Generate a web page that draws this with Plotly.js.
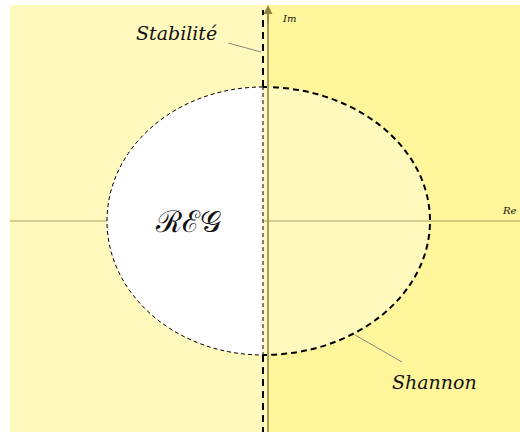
<!DOCTYPE html>
<html>
<head>
<meta charset="utf-8">
<script src="https://cdn.plot.ly/plotly-3.0.1.min.js"></script>
<style>html,body{margin:0;padding:0;background:#fff;}#chart{width:520px;height:432px;}</style>
</head>
<body>
<div id="chart"></div>
<script>
// Plane coordinates (centre of the ellipse at the origin)
const reRange = [-263, 257];
const imRange = [-211, 221];
const planeBox = [-253, 257, -211, 216];      // left, right, bottom, top of the coloured plane
const halfWidths = [156, 167];                // REG (left half), Shannon (right half)
const halfHeight = [134];
const imAxisX = [5];
const labels = ["Stabilité", "Shannon", "ℛℰ𝒢", "Im", "Re"];
const labelPos = [[-87, 188], [171, -161], [-75, 0], [26, 203], [246, 11]];
const leaderStab = [[-35, 178], [-2, 169]];
const leaderShan = [[92, -114], [139, -141]];

const k = 0.5523;
function halfEllipse(a, b, sign, close) {
  const s = sign;
  return `M 0,${b} C ${s*k*a},${b} ${s*a},${k*b} ${s*a},0 C ${s*a},${-k*b} ${s*k*a},${-b} 0,${-b}` + (close ? ' Z' : '');
}
const lightY = '#FFF9BE';
const brightY = '#FFF69B';
const axisCol = '#A8A15A';
const [aL, aR] = halfWidths;
const b = halfHeight[0];

const shapes = [
  {type:'rect', xref:'x', yref:'y', x0:planeBox[0], x1:imAxisX[0], y0:planeBox[2], y1:planeBox[3], fillcolor:lightY, line:{width:0}},
  {type:'rect', xref:'x', yref:'y', x0:imAxisX[0], x1:planeBox[1], y0:planeBox[2], y1:planeBox[3], fillcolor:brightY, line:{width:0}},
  {type:'path', xref:'x', yref:'y', path:halfEllipse(aR, b, 1, true), fillcolor:lightY, line:{width:0}},
  {type:'line', xref:'x', yref:'y', x0:planeBox[0], x1:planeBox[1], y0:0, y1:0, line:{color:axisCol, width:1}},
  {type:'path', xref:'x', yref:'y', path:halfEllipse(aL, b, -1, true), fillcolor:'#FFFFFF', line:{color:'#000', width:1, dash:'4px,3px'}},
  {type:'path', xref:'x', yref:'y', path:halfEllipse(aR, b, 1, false), fillcolor:'rgba(0,0,0,0)', line:{color:'#000', width:2, dash:'6px,4px'}},
  {type:'line', xref:'x', yref:'y', x0:0, x1:0, y0:b, y1:planeBox[3]-5, line:{color:'#000', width:2, dash:'7px,5px'}},
  {type:'line', xref:'x', yref:'y', x0:0, x1:0, y0:-b, y1:planeBox[2], line:{color:'#000', width:2, dash:'7px,5px'}},
  {type:'line', xref:'x', yref:'y', x0:imAxisX[0], x1:imAxisX[0], y0:planeBox[2], y1:planeBox[3]-6, line:{color:axisCol, width:2}},
  {type:'line', xref:'x', yref:'y', x0:leaderStab[0][0], y0:leaderStab[0][1], x1:leaderStab[1][0], y1:leaderStab[1][1], line:{color:'#888', width:1}},
  {type:'line', xref:'x', yref:'y', x0:leaderShan[0][0], y0:leaderShan[0][1], x1:leaderShan[1][0], y1:leaderShan[1][1], line:{color:'#888', width:1}}
];

const serif = "DejaVu Serif";
const annotations = [
  {x:labelPos[0][0], y:labelPos[0][1], text:labels[0], showarrow:false, font:{family:serif, style:'italic', size:19, color:'#111'}},
  {x:labelPos[1][0], y:labelPos[1][1], text:labels[1], showarrow:false, font:{family:serif, style:'italic', size:19, color:'#111'}},
  {x:labelPos[2][0], y:labelPos[2][1], text:labels[2], showarrow:false, font:{family:serif, size:30, color:'#111'}},
  {x:labelPos[3][0], y:labelPos[3][1], text:labels[3], showarrow:false, font:{family:serif, style:'italic', size:10, color:'#111'}},
  {x:labelPos[4][0], y:labelPos[4][1], text:labels[4], showarrow:false, font:{family:serif, style:'italic', size:10, color:'#111'}},
  {x:imAxisX[0], y:planeBox[3], ax:imAxisX[0], ay:planeBox[3]-20, axref:'x', ayref:'y', text:'', showarrow:true, arrowhead:2, arrowsize:1.2, arrowwidth:1.5, arrowcolor:'#8F8740', standoff:0}
];

Plotly.newPlot('chart', [], {
  width:520, height:432, autosize:false,
  margin:{l:0, r:0, t:0, b:0},
  paper_bgcolor:'#fff', plot_bgcolor:'#fff',
  xaxis:{range:reRange, visible:false, fixedrange:true},
  yaxis:{range:imRange, visible:false, fixedrange:true},
  showlegend:false,
  shapes:shapes, annotations:annotations
}, {staticPlot:true});
</script>
</body>
</html>
